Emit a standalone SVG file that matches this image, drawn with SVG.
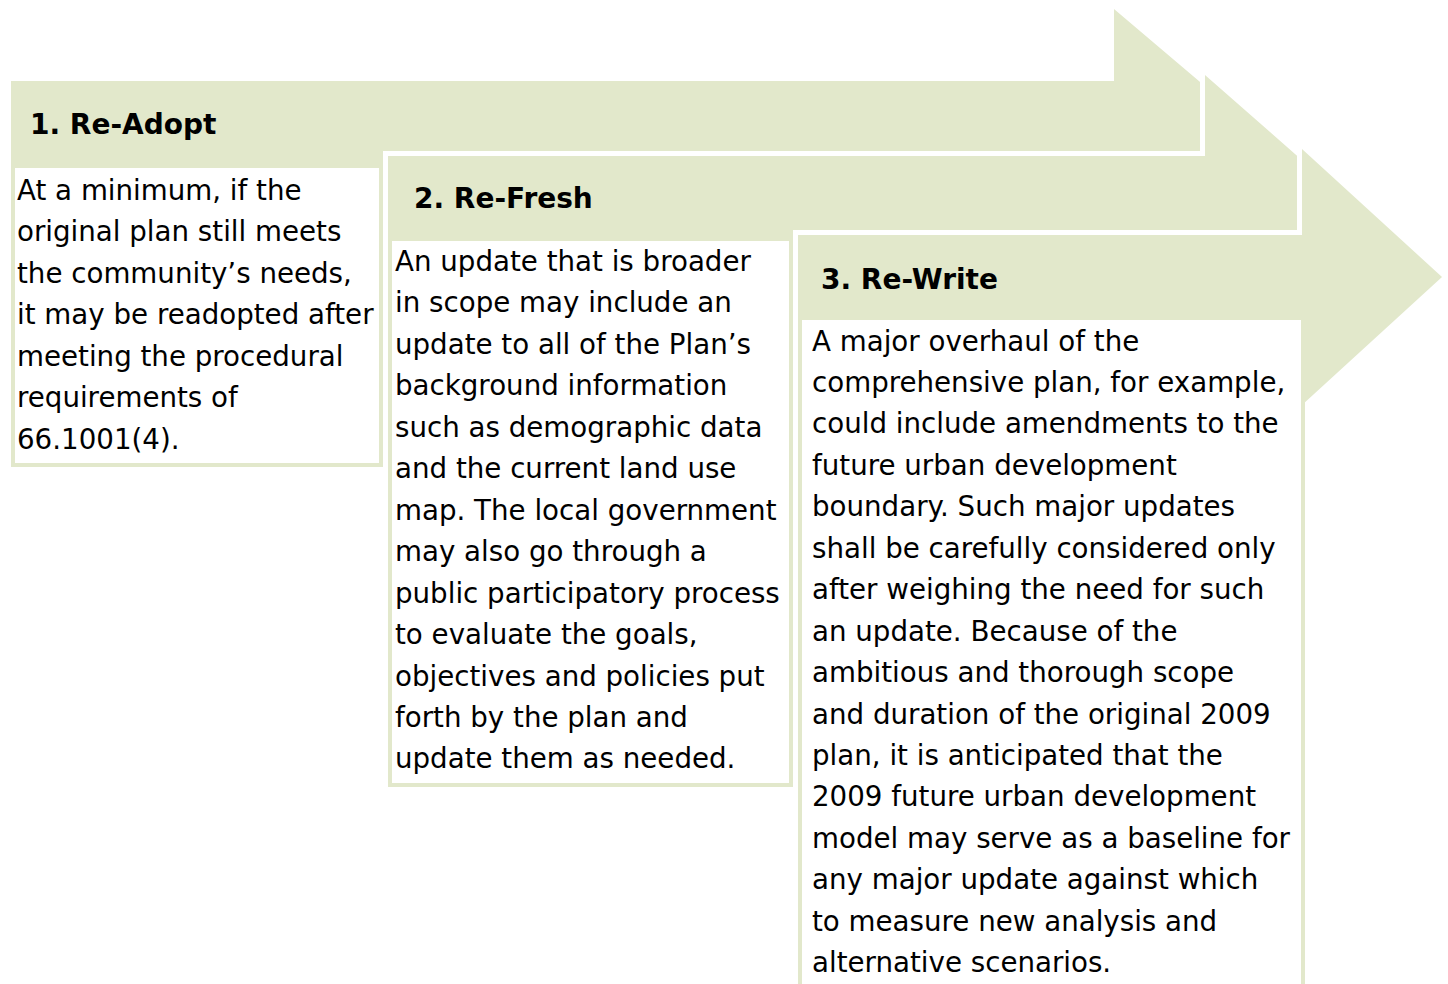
<svg xmlns="http://www.w3.org/2000/svg" width="1448" height="984" viewBox="0 0 1448 984">
<style>
.arrow{fill:#E2E8CB;stroke:#FFFFFF;stroke-width:10;stroke-linejoin:miter;paint-order:stroke}
.box{fill:#FFFFFF;stroke:#E2E8CB;stroke-width:4}
.title{font-family:"DejaVu Sans",Verdana,sans-serif;font-weight:bold;font-size:28px;fill:#000}
.body{font-family:"DejaVu Sans",Verdana,sans-serif;font-size:27.7px;fill:#000}
</style>
<rect width="1448" height="984" fill="#FFFFFF"/>
<g id="step1">
<polygon class="arrow" points="11,81 1114,81 1114,9 1249,123.5 1114,238 1114,166 11,166"/>
<text class="title" x="30" y="134">1. Re-Adopt</text>
<rect class="box" x="13" y="166" width="368" height="299"/>
<text class="body" x="17" y="200">
<tspan x="17">At a minimum, if the</tspan>
<tspan x="17" dy="41.45">original plan still meets</tspan>
<tspan x="17" dy="41.45">the community’s needs,</tspan>
<tspan x="17" dy="41.45">it may be readopted after</tspan>
<tspan x="17" dy="41.45">meeting the procedural</tspan>
<tspan x="17" dy="41.45">requirements of</tspan>
<tspan x="17" dy="41.45">66.1001(4).</tspan>
</text>
</g>
<g id="step2">
<polygon class="arrow" points="388,156 1205,156 1205,75 1345,198 1205,321 1205,241 388,241"/>
<text class="title" x="414" y="208">2. Re-Fresh</text>
<rect class="box" x="390" y="239" width="401" height="546"/>
<text class="body" x="395" y="271">
<tspan x="395">An update that is broader</tspan>
<tspan x="395" dy="41.45">in scope may include an</tspan>
<tspan x="395" dy="41.45">update to all of the Plan’s</tspan>
<tspan x="395" dy="41.45">background information</tspan>
<tspan x="395" dy="41.45">such as demographic data</tspan>
<tspan x="395" dy="41.45">and the current land use</tspan>
<tspan x="395" dy="41.45">map. The local government</tspan>
<tspan x="395" dy="41.45">may also go through a</tspan>
<tspan x="395" dy="41.45">public participatory process</tspan>
<tspan x="395" dy="41.45">to evaluate the goals,</tspan>
<tspan x="395" dy="41.45">objectives and policies put</tspan>
<tspan x="395" dy="41.45">forth by the plan and</tspan>
<tspan x="395" dy="41.45">update them as needed.</tspan>
</text>
</g>
<g id="step3">
<polygon class="arrow" points="798,235 1302,235 1302,149 1442,277 1302,405 1302,322 798,322"/>
<text class="title" x="821" y="289">3. Re-Write</text>
<rect class="box" x="800" y="318" width="503" height="700"/>
<text class="body" x="812" y="350.5">
<tspan x="812">A major overhaul of the</tspan>
<tspan x="812" dy="41.45">comprehensive plan, for example,</tspan>
<tspan x="812" dy="41.45">could include amendments to the</tspan>
<tspan x="812" dy="41.45">future urban development</tspan>
<tspan x="812" dy="41.45">boundary. Such major updates</tspan>
<tspan x="812" dy="41.45">shall be carefully considered only</tspan>
<tspan x="812" dy="41.45">after weighing the need for such</tspan>
<tspan x="812" dy="41.45">an update. Because of the</tspan>
<tspan x="812" dy="41.45">ambitious and thorough scope</tspan>
<tspan x="812" dy="41.45">and duration of the original 2009</tspan>
<tspan x="812" dy="41.45">plan, it is anticipated that the</tspan>
<tspan x="812" dy="41.45">2009 future urban development</tspan>
<tspan x="812" dy="41.45">model may serve as a baseline for</tspan>
<tspan x="812" dy="41.45">any major update against which</tspan>
<tspan x="812" dy="41.45">to measure new analysis and</tspan>
<tspan x="812" dy="41.45">alternative scenarios.</tspan>
</text>
</g>
<g id="connectors"/>
</svg>
